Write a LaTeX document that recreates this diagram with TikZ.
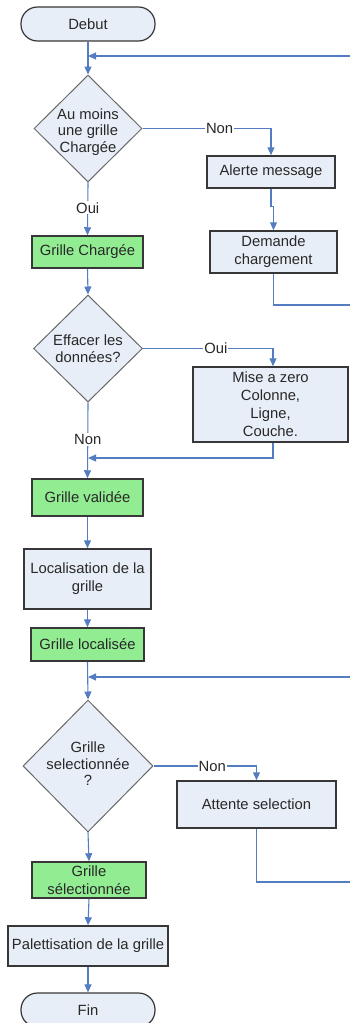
\documentclass[tikz,border=0pt]{standalone}
\usepackage{fontspec}
\setmainfont{Liberation Sans}
\usetikzlibrary{shapes.geometric,arrows.meta}
\definecolor{boxfill}{RGB}{232,238,247}
\definecolor{greenfill}{RGB}{146,236,146}
\definecolor{edgecol}{RGB}{55,55,55}
\definecolor{linecol}{RGB}{84,124,192}
\definecolor{txtcol}{RGB}{40,40,40}
\begin{document}
\begin{tikzpicture}[x=1pt,y=-1pt,
  base/.style={draw=edgecol, line width=1.5pt, text=txtcol,
    font=\fontsize{14.8}{17.9}\selectfont, align=center, inner sep=0pt},
  procbox/.style={base, rectangle, fill=boxfill},
  okbox/.style={base, rectangle, fill=greenfill},
  termbox/.style={base, rectangle, rounded corners=16.5pt, fill=boxfill, line width=1.2pt},
  decision/.style={base, diamond, fill=boxfill, line width=1pt, draw=edgecol!75},
  dtext/.style={text=txtcol, font=\fontsize{14.8}{16.5}\selectfont, align=center, inner sep=0pt},
  arrowline/.style={draw=linecol, line width=1.1pt, -{Triangle[length=8pt,width=7pt]}},
  lbl/.style={fill=white, inner sep=1pt, text=txtcol, font=\fontsize{14.8}{17.9}\selectfont}
]
\useasboundingbox (0,0) rectangle (349,1023);

% nodes
\node[termbox, minimum width=134pt, minimum height=34pt] (debut) at (88,24) {Debut};
\node[decision, minimum width=108pt, minimum height=107pt] (d1) at (88,128.5) {};
\node[dtext] (d1t) at (88,132) {Au moins\\une grille\\Chargée};
\node[procbox, minimum width=128pt, minimum height=32pt] (alerte) at (271,172) {Alerte message};
\node[procbox, minimum width=127pt, minimum height=42pt] (demande) at (273.5,252) {Demande\\chargement};
\node[okbox, minimum width=111pt, minimum height=32pt] (gc) at (87.5,252) {Grille Chargée};
\node[decision, minimum width=109pt, minimum height=107pt] (d2) at (88,348.5) {};
\node[dtext] (d2t) at (88,348.5) {Effacer les\\données?};
\node[procbox, minimum width=155pt, minimum height=75pt] (mise) at (270.5,404.5) {Mise a zero\\Colonne,\\Ligne,\\Couche.};
\node[okbox, minimum width=111pt, minimum height=37pt] (gv) at (87.5,497.5) {Grille validée};
\node[procbox, minimum width=127pt, minimum height=60pt] (loc) at (87.5,579) {Localisation de la\\grille};
\node[okbox, minimum width=113pt, minimum height=33pt] (gl) at (87.5,644.5) {Grille localisée};
\node[decision, minimum width=130pt, minimum height=132pt] (d3) at (88,766) {};
\node[dtext] (d3t) at (88,764) {Grille\\selectionnée\\?};
\node[procbox, minimum width=159pt, minimum height=47pt] (attente) at (256.5,804.5) {Attente selection};
\node[okbox, minimum width=114pt, minimum height=36pt] (gs) at (89,880) {Grille\\sélectionnée};
\node[procbox, minimum width=160pt, minimum height=40pt] (pal) at (88,946) {Palettisation de la grille};
\node[termbox, minimum width=134pt, minimum height=34pt] (fin) at (88,1010) {Fin};

% junction points on the main column
\coordinate (m1) at (88,56);
\coordinate (m2) at (88,458);
\coordinate (m3) at (88,677);
% points beyond the right edge
\coordinate (r1) at (365,305);
\coordinate (r1t) at (365,56);
\coordinate (r2) at (365,882);
\coordinate (r2t) at (365,677);

% connectors
\draw[arrowline] (debut.south) -- (d1.north);
\draw[arrowline] (d1.east) -| node[lbl, pos=0.3] {Non} (alerte.north);
\draw[arrowline] (alerte.south) -- ++(0,18) -| (demande.north);
\draw[arrowline] (demande.south) |- (r1) -- (r1t) -- (m1);
\draw[arrowline] (d1.south) -- node[lbl, pos=0.48] {Oui} (gc.north);
\draw[arrowline] (gc.south) -- (d2.north);
\draw[arrowline] (d2.east) -| node[lbl, pos=0.28] {Oui} ([xshift=2.5pt]mise.north);
\draw[arrowline] ([xshift=2.5pt]mise.south) |- (m2);
\draw[arrowline] (d2.south) -- node[lbl, pos=0.49] {Non} (gv.north);
\draw[arrowline] (gv.south) -- (loc.north);
\draw[arrowline] (loc.south) -- (gl.north);
\draw[arrowline] (gl.south) -- (d3.north);
\draw[arrowline] (d3.east) -| node[lbl, pos=0.285] {Non} (attente.north);
\draw[arrowline] (attente.south) |- (r2) -- (r2t) -- (m3);
\draw[arrowline] (d3.south) -- (gs.north);
\draw[arrowline] (gs.south) -- (pal.north);
\draw[arrowline] (pal.south) -- (fin.north);
\end{tikzpicture}
\end{document}
